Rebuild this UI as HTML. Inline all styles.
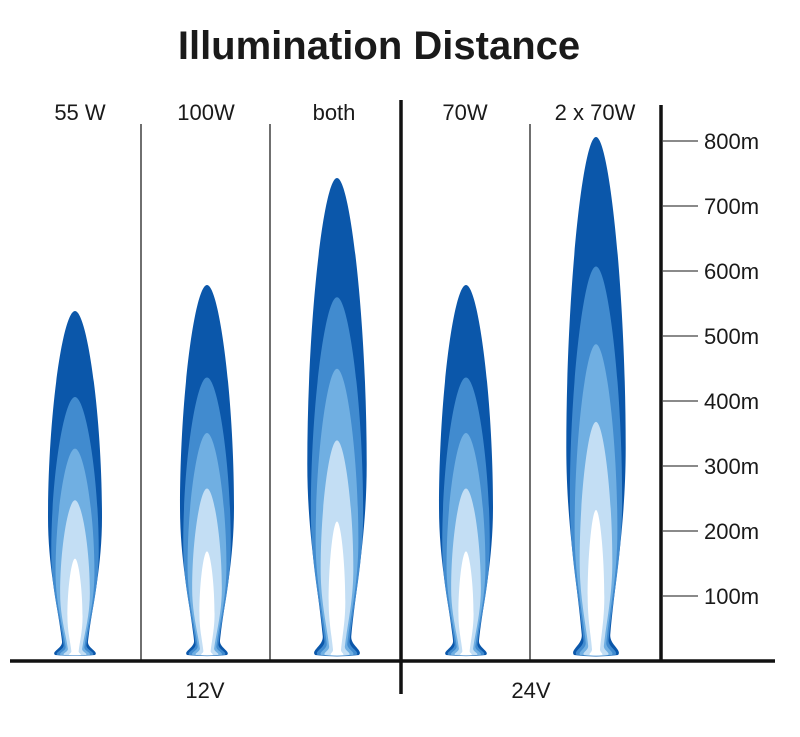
<!DOCTYPE html>
<html><head><meta charset="utf-8"><style>
html,body{margin:0;padding:0;background:#fff}
svg text{font-family:"Liberation Sans",Arial,sans-serif;fill:#1a1a1a}
</style></head><body>
<svg width="800" height="732" viewBox="0 0 800 732" xmlns="http://www.w3.org/2000/svg">
<defs>
<path id="b" d="M -20,0 C -24,-10 -12,-20 -13,-40 C -17,-140 -27,-250 -27,-400 C -27,-700 -12,-1000 0,-1000 C 12,-1000 27,-700 27,-400 C 27,-250 17,-140 13,-40 C 12,-20 24,-10 20,0 Q 0,6 -20,0 Z"/>
<g id="beam">
<use href="#b" fill="#0b57aa"/>
<use href="#b" fill="#418bcf" transform="scale(0.88,0.75)"/>
<use href="#b" fill="#70afe2" transform="scale(0.72,0.6)"/>
<use href="#b" fill="#c3def4" transform="scale(0.55,0.45)"/>
<use href="#b" fill="#ffffff" transform="scale(0.28,0.28)"/>
</g>
</defs>
<text x="379" y="59" font-size="40" font-weight="bold" text-anchor="middle">Illumination Distance</text>
<g font-size="22" text-anchor="middle">
<text x="80" y="120">55 W</text>
<text x="206" y="120">100W</text>
<text x="334" y="120">both</text>
<text x="465" y="120">70W</text>
<text x="595" y="120">2 x 70W</text>
<text x="205" y="698">12V</text>
<text x="531" y="698">24V</text>
</g>
<g stroke="#222" stroke-width="1.3">
<line x1="141" y1="124" x2="141" y2="660"/>
<line x1="270" y1="124" x2="270" y2="660"/>
<line x1="530" y1="124" x2="530" y2="660"/>
</g>
<g transform="translate(75,655) scale(1,0.344)"><use href="#beam"/></g>
<g transform="translate(207,655) scale(1,0.37)"><use href="#beam"/></g>
<g transform="translate(337,655) scale(1.1,0.477)"><use href="#beam"/></g>
<g transform="translate(466,655) scale(1,0.37)"><use href="#beam"/></g>
<g transform="translate(596,655) scale(1.1,0.518)"><use href="#beam"/></g>
<g stroke="#111" stroke-width="3.5">
<line x1="10" y1="661" x2="775" y2="661"/>
<line x1="401" y1="100" x2="401" y2="694"/>
<line x1="661" y1="105" x2="661" y2="661"/>
</g>
<g stroke="#444" stroke-width="1.2">
<line x1="662" y1="141" x2="698" y2="141"/>
<line x1="662" y1="206" x2="698" y2="206"/>
<line x1="662" y1="271" x2="698" y2="271"/>
<line x1="662" y1="336" x2="698" y2="336"/>
<line x1="662" y1="401" x2="698" y2="401"/>
<line x1="662" y1="466" x2="698" y2="466"/>
<line x1="662" y1="531" x2="698" y2="531"/>
<line x1="662" y1="596" x2="698" y2="596"/>
</g>
<g font-size="22">
<text x="704" y="149">800m</text>
<text x="704" y="214">700m</text>
<text x="704" y="279">600m</text>
<text x="704" y="344">500m</text>
<text x="704" y="409">400m</text>
<text x="704" y="474">300m</text>
<text x="704" y="539">200m</text>
<text x="704" y="604">100m</text>
</g>
</svg>
</body></html>
